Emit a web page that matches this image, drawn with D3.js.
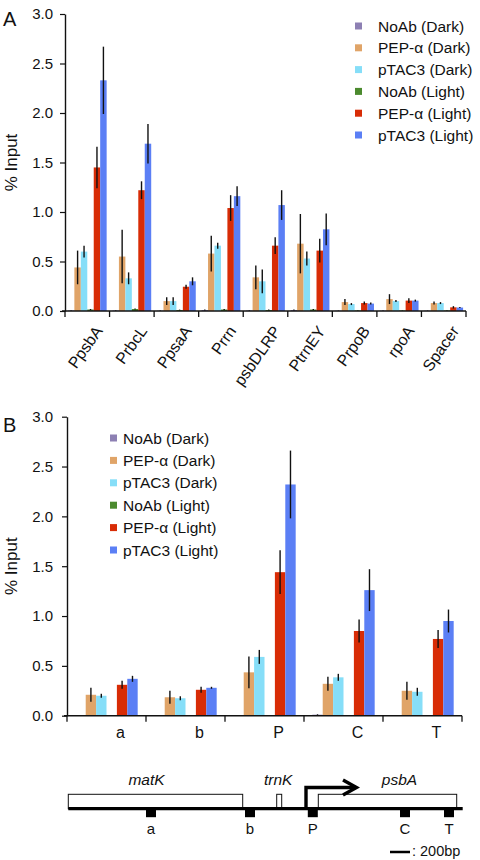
<!DOCTYPE html>
<html><head><meta charset="utf-8">
<script src="https://cdn.jsdelivr.net/npm/d3@7"></script>
<style>
body{margin:0;background:#fff}
svg{display:block}
text{font-family:"Liberation Sans",Arial,Helvetica,sans-serif;fill:#111}
</style>
</head><body>
<script>
// ---------- shared ----------
const seriesNames = ["NoAb (Dark)","PEP-α (Dark)","pTAC3 (Dark)","NoAb (Light)","PEP-α (Light)","pTAC3 (Light)"];
const seriesColors = ["#8d80b3","#e0a468","#86def8","#4b8a2e","#d82c06","#5b7ff5"];
const yTickValues = [0,0.5,1.0,1.5,2.0,2.5,3.0];
const yAxisTitle = "% Input";

// ---------- panel A ----------
const categoriesA = ["PpsbA","PrbcL","PpsaA","Prrn","psbDLRP","PtrnEY","PrpoB","rpoA","Spacer"];
const noAbDarkA   = [0.005,0.005,0.003,0.010,0.005,0.010,0.003,0.003,0.003];
const pepDarkA    = [0.44,0.55,0.10,0.58,0.34,0.68,0.09,0.12,0.08];
const ptacDarkA   = [0.60,0.33,0.10,0.66,0.30,0.53,0.07,0.10,0.08];
const noAbLightA  = [0.015,0.020,0.010,0.015,0.010,0.015,0.005,0.005,0.005];
const pepLightA   = [1.45,1.22,0.245,1.04,0.66,0.61,0.08,0.105,0.037];
const ptacLightA  = [2.33,1.69,0.30,1.16,1.07,0.825,0.075,0.105,0.035];
const noAbDarkErrA  = [0.003,0.003,0.002,0.005,0.003,0.005,0.002,0.002,0.002];
const pepDarkErrA   = [0.17,0.27,0.04,0.18,0.12,0.30,0.03,0.05,0.015];
const ptacDarkErrA  = [0.06,0.06,0.04,0.03,0.12,0.07,0.01,0.01,0.01];
const noAbLightErrA = [0.005,0.005,0.004,0.005,0.004,0.005,0.002,0.002,0.002];
const pepLightErrA  = [0.21,0.09,0.02,0.13,0.085,0.12,0.015,0.025,0.012];
const ptacLightErrA = [0.34,0.20,0.04,0.10,0.15,0.16,0.01,0.01,0.005];

// ---------- panel B ----------
const categoriesB = ["a","b","P","C","T"];
const noAbDarkB   = [0.003,0.003,0.003,0.010,0.005];
const pepDarkB    = [0.21,0.185,0.435,0.32,0.25];
const ptacDarkB   = [0.20,0.175,0.59,0.385,0.24];
const noAbLightB  = [0.003,0.003,0.005,0.005,0.003];
const pepLightB   = [0.31,0.26,1.44,0.85,0.77];
const ptacLightB  = [0.37,0.28,2.32,1.26,0.95];
const noAbDarkErrB  = [0.002,0.002,0.002,0.004,0.002];
const pepDarkErrB   = [0.07,0.065,0.16,0.07,0.09];
const ptacDarkErrB  = [0.02,0.02,0.07,0.035,0.04];
const noAbLightErrB = [0.002,0.002,0.002,0.002,0.002];
const pepLightErrB  = [0.04,0.03,0.22,0.115,0.09];
const ptacLightErrB = [0.03,0.01,0.34,0.21,0.115];

// ---------- gene map (bp) ----------
const locusLengthBp = 3944;
const geneNames = ["matK","trnK","psbA"];
const geneStartBp = [0,2084,2500];
const geneEndBp   = [1744,2134,3884];
const ampliconNames = ["a","b","P","C","T"];
const ampliconCenterBp = [827,1817,2445,3367,3807];
const ampliconWidthBp = 100;
const tssBp = 2377;
const scaleBarBp = 200;
const scaleBarLabel = ": 200bp";

const W = 480, H = 860;
const svg = d3.select("body").append("svg").attr("width",W).attr("height",H);

function makeSeries(vals, errs){
  return seriesNames.map((n,i)=>({name:n, color:seriesColors[i], values:vals[i], errors:errs[i]}));
}
const seriesA = makeSeries([noAbDarkA,pepDarkA,ptacDarkA,noAbLightA,pepLightA,ptacLightA],
                           [noAbDarkErrA,pepDarkErrA,ptacDarkErrA,noAbLightErrA,pepLightErrA,ptacLightErrA]);
const seriesB = makeSeries([noAbDarkB,pepDarkB,ptacDarkB,noAbLightB,pepLightB,ptacLightB],
                           [noAbDarkErrB,pepDarkErrB,ptacDarkErrB,noAbLightErrB,pepLightErrB,ptacLightErrB]);

function drawPanel(cfg){
  const g = svg.append("g");
  const x0 = d3.scaleBand().domain(cfg.categories).range([cfg.left,cfg.right]);
  const x1 = d3.scaleBand().domain(d3.range(cfg.series.length)).range([0,x0.bandwidth()])
               .paddingInner(0).paddingOuter(cfg.outerPad);
  const y = d3.scaleLinear().domain([0,3]).range([cfg.bottom,cfg.top]);

  // bars
  cfg.series.forEach((s,si)=>{
    g.append("g").selectAll("rect").data(cfg.categories).join("rect")
      .attr("x",c=>x0(c)+x1(si))
      .attr("width",x1.bandwidth())
      .attr("y",(c,i)=>y(s.values[i]))
      .attr("height",(c,i)=>y(0)-y(s.values[i]))
      .attr("fill",s.color);
  });
  // error bars
  cfg.series.forEach((s,si)=>{
    g.append("g").selectAll("line").data(cfg.categories).join("line")
      .attr("x1",c=>x0(c)+x1(si)+x1.bandwidth()/2)
      .attr("x2",c=>x0(c)+x1(si)+x1.bandwidth()/2)
      .attr("y1",(c,i)=>y(s.values[i]+s.errors[i]))
      .attr("y2",(c,i)=>y(Math.max(0,s.values[i]-s.errors[i])))
      .attr("stroke","#111").attr("stroke-width",1.4);
  });

  // y axis
  const ya = g.append("g").attr("transform",`translate(${cfg.left},0)`)
    .call(d3.axisLeft(y).tickValues(yTickValues).tickFormat(d3.format(".1f"))
          .tickSize(5).tickSizeOuter(0).tickPadding(cfg.tickPad));
  ya.select(".domain").attr("stroke","#111").attr("stroke-width",1.4);
  ya.selectAll(".tick line").attr("stroke","#111").attr("stroke-width",1.2);
  ya.selectAll("text").attr("font-size",15).attr("font-family",'"Liberation Sans",Arial,sans-serif').attr("fill","#222");

  // x axis line with boundary ticks
  g.append("line").attr("x1",cfg.left-3).attr("x2",cfg.right).attr("y1",y(0)).attr("y2",y(0))
    .attr("stroke","#111").attr("stroke-width",1.4);
  const bounds = cfg.categories.map(c=>x0(c)).concat([x0.range()[1]]);
  g.append("g").selectAll("line").data(bounds).join("line")
    .attr("x1",d=>d).attr("x2",d=>d).attr("y1",y(0)).attr("y2",y(0)+6)
    .attr("stroke","#111").attr("stroke-width",1.3);

  // x labels
  const xl = g.append("g").selectAll("text").data(cfg.categories).join("text")
    .attr("font-size",16).attr("fill","#111").text(d=>d);
  if(cfg.rotate){
    xl.attr("text-anchor","end")
      .attr("transform",c=>`translate(${x0(c)+x0.bandwidth()/2+cfg.labelDx},${y(0)+cfg.labelDy}) rotate(${cfg.rotate})`);
  } else {
    xl.attr("text-anchor","middle")
      .attr("x",c=>x0(c)+x0.bandwidth()/2+cfg.labelDx).attr("y",y(0)+cfg.labelDy);
  }

  // y title
  g.append("text").attr("transform",`translate(17,${(cfg.top+cfg.bottom)/2}) rotate(-90)`)
    .attr("text-anchor","middle").attr("font-size",17).text(yAxisTitle);

  // panel letter
  g.append("text").attr("x",3).attr("y",cfg.letterY).attr("font-size",20).text(cfg.letter);

  // legend
  const lg = g.append("g").selectAll("g").data(cfg.series).join("g")
    .attr("transform",(d,i)=>`translate(${cfg.legendX},${cfg.legendY+i*cfg.legendStep})`);
  lg.append("rect").attr("x",0).attr("y",-3.5).attr("width",7).attr("height",7).attr("fill",d=>d.color);
  lg.append("text").attr("x",cfg.legendTextDx).attr("y",5.5).attr("font-size",15.5).text(d=>d.name);
}

drawPanel({categories:categoriesA, series:seriesA, left:65, right:466, top:14, bottom:311,
  outerPad:0.45, tickPad:7, rotate:-55, labelDx:16, labelDy:20,
  letter:"A", letterY:26, legendX:355, legendY:26, legendStep:21.8, legendTextDx:23});

drawPanel({categories:categoriesB, series:seriesB, left:67, right:462, top:416.7, bottom:715.7,
  outerPad:0.8, tickPad:9, rotate:0, labelDx:14, labelDy:22.5,
  letter:"B", letterY:432, legendX:110, legendY:438, legendStep:22.4, legendTextDx:13});

// ---------- gene map ----------
const gm = svg.append("g");
const xg = d3.scaleLinear().domain([0,locusLengthBp]).range([68.3,462.7]);
const lineY = 808.7, boxTop = 794.3;
const geneLabelShift = [-9,-1,12];
// gene boxes
gm.selectAll("rect.gene").data(geneNames).join("rect").attr("class","gene")
  .attr("x",(d,i)=>xg(geneStartBp[i])).attr("width",(d,i)=>xg(geneEndBp[i])-xg(geneStartBp[i]))
  .attr("y",boxTop).attr("height",lineY-boxTop)
  .attr("fill","#fff").attr("stroke","#111").attr("stroke-width",1);
gm.selectAll("text.gene").data(geneNames).join("text").attr("class","gene")
  .attr("x",(d,i)=>(xg(geneStartBp[i])+xg(geneEndBp[i]))/2+geneLabelShift[i])
  .attr("y",785).attr("text-anchor","middle").attr("font-size",15.5).attr("font-style","italic").text(d=>d);
// main line
gm.append("line").attr("x1",xg(0)).attr("x2",xg(locusLengthBp)).attr("y1",lineY).attr("y2",lineY)
  .attr("stroke","#000").attr("stroke-width",3.2);
// amplicons
gm.selectAll("rect.amp").data(ampliconNames).join("rect").attr("class","amp")
  .attr("x",(d,i)=>xg(ampliconCenterBp[i]-ampliconWidthBp/2))
  .attr("width",(d,i)=>xg(ampliconWidthBp)-xg(0))
  .attr("y",lineY).attr("height",8.5).attr("fill","#000");
gm.selectAll("text.amp").data(ampliconNames).join("text").attr("class","amp")
  .attr("x",(d,i)=>xg(ampliconCenterBp[i])).attr("y",833.5)
  .attr("text-anchor","middle").attr("font-size",15).text(d=>d);
// TSS arrow
const tx = xg(tssBp);
gm.append("path").attr("d",`M${tx},${lineY} V787.5 H${tx+50}`)
  .attr("fill","none").attr("stroke","#000").attr("stroke-width",3.4);
gm.append("path").attr("d",`M${tx+37},780 L${tx+50.5},787.5 L${tx+37},795`)
  .attr("fill","none").attr("stroke","#000").attr("stroke-width",3.4).attr("stroke-linejoin","miter");
// scale bar
const sbEnd = 410;
gm.append("line").attr("x1",sbEnd-(xg(scaleBarBp)-xg(0))).attr("x2",sbEnd).attr("y1",852).attr("y2",852)
  .attr("stroke","#000").attr("stroke-width",2.5);
gm.append("text").attr("x",sbEnd+2).attr("y",855.5).attr("font-size",14.5).text(scaleBarLabel);
</script>
</body></html>
